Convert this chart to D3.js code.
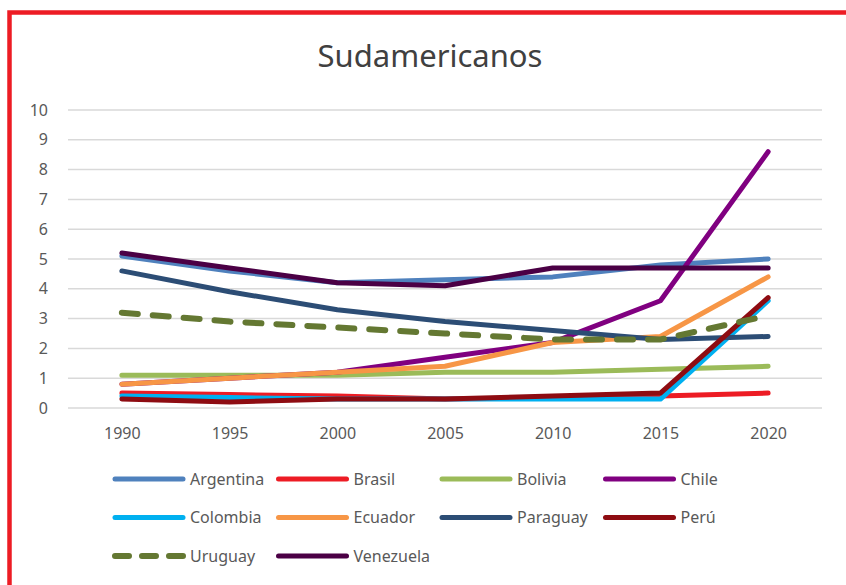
<!DOCTYPE html>
<html>
<head>
<meta charset="utf-8">
<script src="https://cdn.jsdelivr.net/npm/d3@7"></script>
<style>
  body { margin: 0; background: #fff; }
  text { font-family: "Noto Sans", "Open Sans", sans-serif; fill: #595959; }
</style>
</head>
<body>
<div id="chart"></div>
<script>
var years = ["1990", "1995", "2000", "2005", "2010", "2015", "2020"];
var yTicks = [0, 1, 2, 3, 4, 5, 6, 7, 8, 9, 10];

var argentina = [5.1, 4.6, 4.2, 4.3, 4.4, 4.8, 5.0];
var brasil    = [0.5, 0.45, 0.4, 0.3, 0.35, 0.4, 0.5];
var bolivia   = [1.1, 1.1, 1.1, 1.2, 1.2, 1.3, 1.4];
var chile     = [0.8, 1.0, 1.2, 1.7, 2.2, 3.6, 8.6];
var colombia  = [0.4, 0.35, 0.3, 0.3, 0.3, 0.3, 3.6];
var ecuador   = [0.8, 1.0, 1.2, 1.4, 2.2, 2.4, 4.4];
var paraguay  = [4.6, 3.9, 3.3, 2.9, 2.6, 2.3, 2.4];
var peru      = [0.3, 0.2, 0.3, 0.3, 0.4, 0.5, 3.7];
var uruguay   = [3.2, 2.9, 2.7, 2.5, 2.3, 2.3, 3.1];
var venezuela = [5.2, 4.7, 4.2, 4.1, 4.7, 4.7, 4.7];

var names  = ["Argentina", "Brasil", "Bolivia", "Chile", "Colombia", "Ecuador", "Paraguay", "Perú", "Uruguay", "Venezuela"];
var colors = ["#4F81BD", "#ED1C24", "#9BBB59", "#800080", "#00B0F0", "#F79646", "#2C4D75", "#8E0C12", "#647832", "#4B0045"];

var series = names.map(function(n, i) {
  return { name: n, color: colors[i], dashed: n === "Uruguay",
           values: [argentina, brasil, bolivia, chile, colombia, ecuador, paraguay, peru, uruguay, venezuela][i] };
});

var svgWidth = 846, svgHeight = 585;
var svg = d3.select("#chart").append("svg")
  .attr("width", svgWidth)
  .attr("height", svgHeight);

// red frame, runs off the right and bottom edge
svg.append("rect")
  .attr("x", 9.5).attr("y", 12.5)
  .attr("width", 900).attr("height", 700)
  .attr("fill", "none")
  .attr("stroke", "#ED1C24")
  .attr("stroke-width", 4.5);

svg.append("text")
  .attr("x", 430).attr("y", 67)
  .attr("text-anchor", "middle")
  .style("font-size", "31px")
  .style("fill", "#404040")
  .text("Sudamericanos");

var x = d3.scalePoint().domain(years).range([68, 822]).padding(0.5);
var y = d3.scaleLinear().domain([0, 10]).range([408, 110]);

// gridlines
svg.append("g").selectAll("line")
  .data(yTicks)
  .enter().append("line")
  .attr("x1", 68).attr("x2", 822)
  .attr("y1", d => y(d)).attr("y2", d => y(d))
  .attr("stroke", "#D9D9D9")
  .attr("stroke-width", 1.5);

// y axis labels
var yAxis = svg.append("g")
  .attr("transform", "translate(56,0)")
  .call(d3.axisLeft(y).tickValues(yTicks).tickSize(0).tickPadding(8));
yAxis.select(".domain").remove();
yAxis.selectAll("text").style("font-size", "16px").attr("fill", "#595959");

// x axis labels
var xAxis = svg.append("g")
  .attr("transform", "translate(0,420)")
  .call(d3.axisBottom(x).tickSize(0).tickPadding(8));
xAxis.select(".domain").remove();
xAxis.selectAll("text").style("font-size", "16px").attr("fill", "#595959");

var line = d3.line()
  .x((d, i) => x(years[i]))
  .y(d => y(d));

svg.append("g").selectAll("path")
  .data(series)
  .enter().append("path")
  .attr("d", d => line(d.values))
  .attr("fill", "none")
  .attr("stroke", d => d.color)
  .attr("stroke-width", d => d.dashed ? 6 : 5)
  .attr("stroke-linecap", "round")
  .attr("stroke-linejoin", "round")
  .attr("stroke-dasharray", d => d.dashed ? "16,15" : null);

// legend, 4 per row
var legend = svg.append("g").selectAll("g")
  .data(series)
  .enter().append("g")
  .attr("transform", (d, i) => `translate(${113 + (i % 4) * 163.5}, ${479 + Math.floor(i / 4) * 38.5})`);

legend.append("line")
  .attr("x1", 2).attr("x2", 70)
  .attr("y1", 0).attr("y2", 0)
  .attr("stroke", d => d.color)
  .attr("stroke-width", d => d.dashed ? 6 : 5)
  .attr("stroke-linecap", "round")
  .attr("stroke-dasharray", d => d.dashed ? "14,13" : null);

legend.append("text")
  .attr("x", 77).attr("y", 0)
  .attr("dy", "0.35em")
  .style("font-size", "16px")
  .text(d => d.name);
</script>
</body>
</html>
